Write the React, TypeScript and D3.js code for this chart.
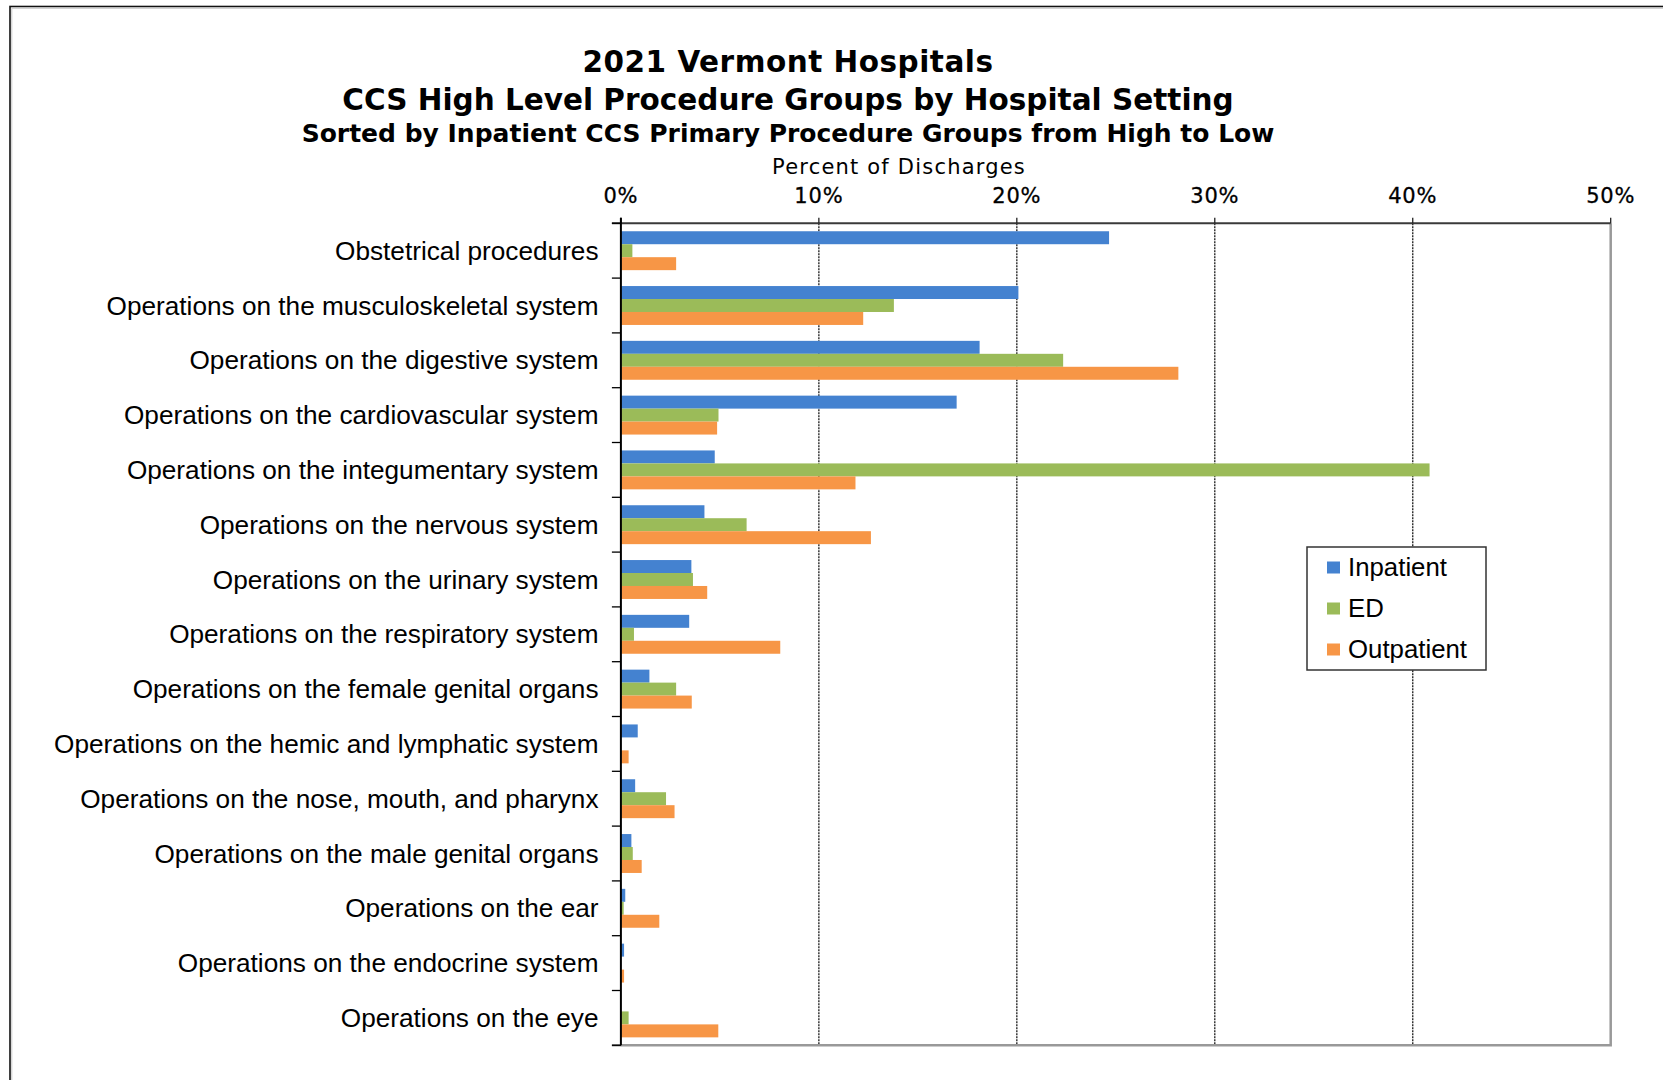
import React, { useEffect, useRef } from "react";
import * as d3 from "d3";

const categories = [
  "Obstetrical procedures",
  "Operations on the musculoskeletal system",
  "Operations on the digestive system",
  "Operations on the cardiovascular system",
  "Operations on the integumentary system",
  "Operations on the nervous system",
  "Operations on the urinary system",
  "Operations on the respiratory system",
  "Operations on the female genital organs",
  "Operations on the hemic and lymphatic system",
  "Operations on the nose, mouth, and pharynx",
  "Operations on the male genital organs",
  "Operations on the ear",
  "Operations on the endocrine system",
  "Operations on the eye",
];

const seriesNames = ["Inpatient", "ED", "Outpatient"];
const inpatient = [24.66, 20.08, 18.12, 16.96, 4.74, 4.22, 3.56, 3.45, 1.44, 0.85, 0.72, 0.53, 0.22, 0.16, 0];
const ed = [0.58, 13.79, 22.34, 4.93, 40.85, 6.35, 3.64, 0.66, 2.79, 0, 2.28, 0.6, 0.14, 0, 0.39];
const outpatient = [2.79, 12.24, 28.16, 4.86, 11.85, 12.63, 4.36, 8.05, 3.58, 0.39, 2.71, 1.05, 1.94, 0.16, 4.92];
const xTicks = [0, 10, 20, 30, 40, 50];

const titleLines = [
  "2021 Vermont Hospitals",
  "CCS High Level Procedure Groups by Hospital Setting",
];
const subtitle = "Sorted by Inpatient CCS Primary Procedure Groups from High to Low";
const axisTitle = "Percent of Discharges";

const colors = ["#4482d0", "#9bbb59", "#f79646"];

const App = () => {
  const svg = useRef<SVGSVGElement>(null);

  useEffect(() => {
    const root = d3.select(svg.current);
    root.selectAll("*").remove();

    const left = 620.9, right = 1610.7, top = 223.3, bottom = 1045.3;
    const values = [inpatient, ed, outpatient];

    const x = d3.scaleLinear().domain([0, 50]).range([left, right]);
    const y = d3.scaleBand().domain(categories).range([top, bottom]).paddingInner(0.29).paddingOuter(0.145);
    const ySub = d3.scaleBand().domain(seriesNames).range([0, y.bandwidth()]);
    const step = (bottom - top) / categories.length;

    // outer frame
    root.append("rect")
      .attr("x", 10).attr("y", 6.5).attr("width", 1720).attr("height", 1120)
      .attr("fill", "none").attr("stroke", "#111").attr("stroke-width", 1.6);
    root.append("path")
      .attr("d", "M11.8,1080V8.3H1663")
      .attr("fill", "none").attr("stroke", "#c8c8c8").attr("stroke-width", 1);

    // titles
    const title = root.append("g").attr("text-anchor", "middle")
      .attr("font-family", "'DejaVu Sans', Verdana, sans-serif").attr("font-weight", "bold").attr("fill", "#000");
    title.append("text").attr("x", 788).attr("y", 72).attr("font-size", 29.5)
      .attr("letter-spacing", 0.5).text(titleLines[0]);
    title.append("text").attr("x", 788).attr("y", 110).attr("font-size", 29.5).text(titleLines[1]);
    title.append("text").attr("x", 788).attr("y", 142).attr("font-size", 25).text(subtitle);

    root.append("text")
      .attr("x", 899).attr("y", 174).attr("text-anchor", "middle")
      .attr("font-family", "'DejaVu Sans', sans-serif").attr("font-size", 21)
      .attr("letter-spacing", 1.2).text(axisTitle);

    // gridlines
    root.append("g").selectAll("line")
      .data(xTicks.filter((t) => t > 0 && t < 50))
      .join("line")
      .attr("x1", (d) => x(d)).attr("x2", (d) => x(d))
      .attr("y1", top).attr("y2", bottom)
      .attr("stroke", "#2a2a2a").attr("stroke-width", 1.4).attr("stroke-dasharray", "2,1");

    // plot right & bottom borders
    root.append("path")
      .attr("d", `M${left - 9},${bottom}H${right}V${top}`)
      .attr("fill", "none").attr("stroke", "#999").attr("stroke-width", 2.5);

    // bars
    const groups = root.append("g").selectAll("g")
      .data(categories)
      .join("g")
      .attr("transform", (d) => `translate(0,${y(d)})`);
    groups.selectAll("rect")
      .data((d, i) => seriesNames.map((s, k) => ({ s, v: values[k][i], k })))
      .join("rect")
      .attr("x", x(0))
      .attr("y", (d) => ySub(d.s))
      .attr("width", (d) => x(d.v) - x(0))
      .attr("height", ySub.bandwidth())
      .attr("fill", (d) => colors[d.k]);

    // top axis
    const topAxis = root.append("g");
    topAxis.append("line")
      .attr("x1", left - 9).attr("x2", right).attr("y1", top).attr("y2", top)
      .attr("stroke", "#3a3a3a").attr("stroke-width", 2);
    topAxis.selectAll("line.tick")
      .data(xTicks)
      .join("line").attr("class", "tick")
      .attr("x1", (d) => x(d)).attr("x2", (d) => x(d))
      .attr("y1", top - 5.5).attr("y2", top)
      .attr("stroke", "#222").attr("stroke-width", 1.3);
    topAxis.selectAll("text")
      .data(xTicks)
      .join("text")
      .attr("x", (d) => x(d)).attr("y", 203.3)
      .attr("text-anchor", "middle")
      .attr("font-family", "'DejaVu Sans', sans-serif").attr("font-size", 21)
      .attr("letter-spacing", 0.8)
      .attr("stroke", "#000").attr("stroke-width", 0.3)
      .text((d) => d + "%");

    // left axis
    const leftAxis = root.append("g");
    leftAxis.append("line")
      .attr("x1", left).attr("x2", left).attr("y1", top - 5.5).attr("y2", bottom)
      .attr("stroke", "#000").attr("stroke-width", 2);
    leftAxis.selectAll("line.tick")
      .data(d3.range(categories.length + 1))
      .join("line").attr("class", "tick")
      .attr("x1", left - 9).attr("x2", left)
      .attr("y1", (d) => top + d * step).attr("y2", (d) => top + d * step)
      .attr("stroke", "#000").attr("stroke-width", 1.3);
    leftAxis.selectAll("text")
      .data(categories)
      .join("text")
      .attr("x", 598.5)
      .attr("y", (d) => (y(d) as number) + y.bandwidth() / 2 + 9)
      .attr("text-anchor", "end")
      .attr("font-family", "'Liberation Sans', Arial, sans-serif").attr("font-size", 26.2)
      .attr("fill", "#000")
      .text((d) => d);

    // legend
    const legend = root.append("g");
    legend.append("rect")
      .attr("x", 1307).attr("y", 547).attr("width", 179).attr("height", 123)
      .attr("fill", "#fff").attr("stroke", "#333").attr("stroke-width", 1.5);
    const item = legend.selectAll("g")
      .data(seriesNames)
      .join("g")
      .attr("transform", (d, i) => `translate(1327,${567.5 + i * 41})`);
    item.append("rect")
      .attr("x", 0).attr("y", -6).attr("width", 13).attr("height", 12)
      .attr("fill", (d, i) => colors[i]);
    item.append("text")
      .attr("x", 21).attr("y", 8.5)
      .attr("font-family", "'Liberation Sans', Arial, sans-serif").attr("font-size", 25.8)
      .text((d) => d);
  }, []);

  return (
    <svg
      ref={svg}
      width={1663}
      height={1080}
      style={{ position: "absolute", left: 0, top: 0, display: "block", background: "#fff" }}
    />
  );
};

export default App;
